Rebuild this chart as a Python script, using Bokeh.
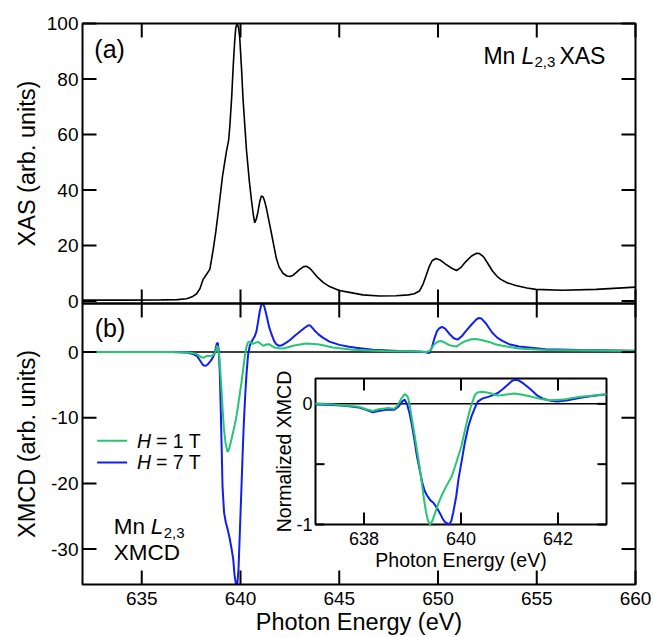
import math
from bokeh.plotting import figure
from bokeh.models import Range1d
from bokeh.core.properties import value
from bokeh.embed import file_html
from bokeh.resources import INLINE

# ---------------- data ----------------
xas_energy = [632.0, 634.0, 636.0, 636.8, 637.27, 637.55, 637.78, 637.95, 638.11, 638.3, 638.45,
              638.62, 638.75, 638.87, 639.09, 639.29, 639.4, 639.46, 639.55, 639.63, 639.7, 639.76,
              639.83, 639.9, 639.96, 640.05, 640.13, 640.3, 640.45, 640.55, 640.65, 640.72, 640.8,
              640.88, 640.98, 641.06, 641.14, 641.22, 641.31, 641.45, 641.56, 641.7, 641.81, 641.95,
              642.15, 642.35, 642.49, 642.65, 642.83, 643.0, 643.2, 643.35, 643.5, 643.59, 643.75,
              643.92, 644.2, 644.51, 645.0, 645.52, 646.19, 647.03, 647.88, 648.5, 648.8, 649.06,
              649.25, 649.39, 649.55, 649.7, 649.9, 650.1, 650.4, 650.7, 650.94, 651.15, 651.41,
              651.7, 651.95, 652.1, 652.3, 652.5, 652.76, 653.0, 653.18, 653.5, 653.94, 654.5,
              654.95, 656.3, 658.0, 660.0]
xas_intensity = [0.3, 0.3, 0.4, 0.5, 0.8, 1.5, 2.6, 4.5, 7.8, 9.8, 11.5,
                 18.6, 25.0, 31.8, 45.0, 54.0, 58.0, 63.0, 73.0, 84.6, 93.0, 98.5,
                 100.0, 98.5, 95.0, 84.0, 72.6, 54.6, 43.0, 36.6, 31.0, 28.2, 29.5,
                 32.0, 36.0, 37.8, 37.6, 36.0, 33.5, 28.5, 24.6, 19.5, 15.5, 12.3,
                 10.0, 9.0, 8.8, 9.2, 10.3, 11.4, 12.4, 12.5, 11.8, 11.2, 9.8,
                 8.4, 6.6, 5.2, 3.8, 3.1, 2.2, 1.8, 1.9, 2.2, 2.6, 3.6,
                 6.2, 9.0, 12.3, 14.5, 15.3, 14.8, 13.2, 11.8, 11.0, 12.0, 14.2,
                 16.2, 17.2, 17.1, 16.0, 13.8, 10.8, 8.8, 7.8, 6.6, 5.6, 4.7,
                 4.2, 3.9, 4.2, 5.0]

xmcd7_energy = [632.0, 636.5, 637.3, 637.6, 637.8, 638.0, 638.11, 638.25, 638.36, 638.5, 638.62,
                638.72, 638.8, 638.85, 638.9, 638.95, 638.99, 639.05, 639.09, 639.17, 639.26,
                639.35, 639.46, 639.55, 639.63, 639.7, 639.76, 639.84, 639.9, 639.96, 640.05,
                640.12, 640.17, 640.24, 640.3, 640.38, 640.47, 640.6, 640.72, 640.81, 640.9,
                640.98, 641.06, 641.14, 641.22, 641.31, 641.45, 641.56, 641.7, 641.81, 641.95,
                642.07, 642.3, 642.49, 642.75, 643.0, 643.25, 643.45, 643.55, 643.75, 643.95,
                644.17, 644.5, 645.01, 645.5, 645.86, 646.7, 648.0, 649.0, 649.3, 649.56, 649.7,
                649.81, 649.95, 650.06, 650.2, 650.35, 650.57, 650.8, 650.99, 651.2, 651.41,
                651.7, 651.92, 652.05, 652.2, 652.42, 652.6, 652.76, 653.0, 653.26, 653.6, 654.1,
                655.45, 657.14, 660.0]
xmcd7_signal = [0.0, 0.0, -0.05, -0.3, -0.6, -1.5, -2.0, -2.1, -1.8, -1.3, -0.7,
                0.2, 1.3, 1.4, 0.2, -3.0, -7.5, -15.0, -20.5, -24.5, -26.0,
                -27.0, -28.5, -30.0, -31.5, -34.0, -35.2, -35.4, -33.0, -28.0, -20.5,
                -14.5, -10.7, -6.5, -3.5, -0.5, 1.0, 1.8, 2.4, 3.2, 4.8,
                6.3, 7.3, 7.4, 6.8, 5.7, 3.8, 2.8, 1.7, 1.2, 0.95,
                1.0, 1.4, 1.8, 2.5, 3.1, 3.7, 4.1, 4.0, 3.3, 2.7,
                2.2, 1.6, 1.1, 0.8, 0.65, 0.35, 0.15, 0.1, 0.0, -0.15, 0.8,
                2.0, 3.2, 3.6, 3.85, 3.6, 2.8, 2.1, 1.9, 2.4, 3.2,
                4.2, 4.9, 5.2, 5.1, 4.4, 3.6, 2.9, 2.2, 1.7, 1.2, 0.85,
                0.45, 0.3, 0.2]

xmcd1_energy = [632.0, 636.5, 637.4, 637.78, 638.03, 638.15, 638.28, 638.54, 638.7, 638.77, 638.82,
                638.87, 638.92, 638.98, 639.04, 639.1, 639.16, 639.25, 639.34, 639.42, 639.55,
                639.68, 639.8, 639.92, 640.05, 640.15, 640.22, 640.3, 640.38, 640.48, 640.6,
                640.75, 640.89, 641.0, 641.14, 641.3, 641.44, 641.6, 641.73, 641.95, 642.15,
                642.4, 642.66, 643.0, 643.33, 643.7, 644.0, 644.68, 645.69, 647.2, 649.0, 649.4,
                649.6, 649.81, 650.0, 650.15, 650.3, 650.48, 650.7, 650.94, 651.15, 651.41, 651.7,
                651.92, 652.2, 652.59, 652.9, 653.26, 654.1, 655.45, 660.0]
xmcd1_signal = [0.0, 0.0, -0.05, -0.3, -0.8, -0.85, -0.6, -0.55, -0.3, 0.4, 1.0,
                0.6, -0.5, -3.0, -5.8, -9.0, -11.7, -14.0, -15.2, -14.8, -13.2,
                -11.5, -9.7, -7.3, -4.6, -2.3, -0.6, 0.8, 1.5, 1.6, 1.25,
                1.4, 1.55, 1.3, 0.95, 1.15, 1.2, 0.9, 0.7, 0.6, 0.56,
                0.75, 0.96, 1.15, 1.3, 1.25, 1.15, 0.7, 0.35, 0.15, 0.1, 0.02,
                0.2, 1.2, 1.6, 1.7, 1.5, 1.2, 0.95, 0.86, 1.3, 1.7, 1.95,
                2.0, 1.85, 1.55, 1.2, 0.96, 0.56, 0.3, 0.15]

inset7_energy = [637.0, 637.36, 637.6, 637.9, 638.05, 638.18, 638.3, 638.45, 638.62, 638.72, 638.79,
                 638.84, 638.89, 638.94, 638.99, 639.04, 639.09, 639.15, 639.2, 639.25, 639.3,
                 639.37, 639.43, 639.5, 639.57, 639.62, 639.67, 639.76, 639.8, 639.84, 639.9,
                 639.95, 640.02, 640.08, 640.15, 640.22, 640.3, 640.35, 640.45, 640.56, 640.66,
                 640.76, 640.87, 640.97, 641.05, 641.12, 641.18, 641.3, 641.44, 641.57, 641.71,
                 641.85, 641.99, 642.2, 642.46, 642.7, 643.0]
inset7_signal = [-0.005, -0.01, -0.015, -0.03, -0.05, -0.07, -0.06, -0.05, -0.05, -0.02, 0.02,
                 0.035, -0.006, -0.08, -0.18, -0.3, -0.43, -0.55, -0.65, -0.72, -0.76,
                 -0.8, -0.82, -0.86, -0.91, -0.95, -0.98, -1.0, -0.97, -0.9, -0.77,
                 -0.62, -0.46, -0.32, -0.19, -0.1, -0.02, 0.02, 0.045, 0.058, 0.072,
                 0.09, 0.125, 0.16, 0.19, 0.2, 0.196, 0.165, 0.118, 0.07, 0.04,
                 0.025, 0.02, 0.03, 0.05, 0.065, 0.08]

inset1_energy = [637.0, 637.4, 637.9, 638.05, 638.18, 638.3, 638.38, 638.5, 638.62, 638.68, 638.72,
                 638.78, 638.84, 638.88, 638.91, 638.95, 638.99, 639.04, 639.09, 639.15, 639.2,
                 639.24, 639.28, 639.32, 639.36, 639.41, 639.47, 639.53, 639.6, 639.7, 639.81,
                 639.9, 640.01, 640.08, 640.15, 640.22, 640.29, 640.35, 640.42, 640.5, 640.59,
                 640.68, 640.76, 640.9, 641.1, 641.27, 641.44, 641.65, 641.85, 642.1, 642.46,
                 642.75, 643.0]
inset1_signal = [0.0, -0.005, -0.025, -0.045, -0.06, -0.045, -0.04, -0.035, -0.04, -0.02, 0.008,
                 0.05, 0.08, 0.07, 0.05, -0.03, -0.13, -0.25, -0.38, -0.53, -0.68,
                 -0.8, -0.9, -0.97, -1.0, -0.97, -0.9, -0.83, -0.76, -0.68, -0.6,
                 -0.49, -0.35, -0.22, -0.1, 0.0, 0.077, 0.095, 0.1, 0.097, 0.09,
                 0.078, 0.068, 0.076, 0.085, 0.075, 0.06, 0.04, 0.03, 0.035, 0.058,
                 0.07, 0.08]

energy_ticks = [635, 640, 645, 650, 655, 660]
energy_tick_labels = ["635", "640", "645", "650", "655", "660"]
xas_ticks = [0, 20, 40, 60, 80, 100]
xas_tick_labels = ["0", "20", "40", "60", "80", "100"]
xmcd_ticks = [-30, -20, -10, 0]
xmcd_tick_labels = ["-30", "-20", "-10", "0"]
inset_x_ticks = [638, 640, 642]
inset_x_labels = ["638", "640", "642"]
inset_y_ticks = [-1, -0.5, 0]
inset_y_label_values = [0, -1]
inset_y_labels = ["0", "-1"]

energy_limits = (632.0, 660.0)
xas_limits = (-0.9, 100.0)
xmcd_limits = (-35.4, 7.4)
inset_xlim = (637.0, 643.0)
inset_ylim = (-1.0, 0.21)

series_labels = ["= 1 T", "= 7 T"]

# ---------------- layout (canvas px, y measured from the top) ----------------
FONT = "Liberation Sans"
BLUE = "#0f1ef2"
GREEN = "#25c670"
W, H = 652, 635
PL, PR = 82, 635            # panel left / right edge
PT, PM, PB = 23, 303, 584   # top of (a), (a)/(b) boundary, bottom of (b)
IB_L, IB_R, IB_T, IB_B = 315, 606, 378, 524   # inset frame
TICK = 14

ev_pp = (PR - PL) / (energy_limits[1] - energy_limits[0])
xas_pp = (PM - PT) / (xas_limits[1] - xas_limits[0])
xmcd_pp = (PB - PM) / (xmcd_limits[1] - xmcd_limits[0])
ixs = (IB_R - IB_L) / (inset_xlim[1] - inset_xlim[0])
iys = (IB_B - IB_T) / (inset_ylim[1] - inset_ylim[0])

p = figure(width=W, height=H,
           x_range=Range1d(energy_limits[0] - PL / ev_pp, energy_limits[1] + (W - PR) / ev_pp),
           y_range=Range1d(xmcd_limits[0] - (H - PB) / xmcd_pp, xmcd_limits[1] + PM / xmcd_pp),
           output_backend="svg", toolbar_location=None,
           x_axis_location=None, y_axis_location=None,
           min_border=0, min_border_left=0, min_border_right=0,
           min_border_top=0, min_border_bottom=0)
p.extra_y_ranges = {
    "xas": Range1d(xas_limits[0] - (H - PM) / xas_pp, xas_limits[1] + PT / xas_pp),
    "iy": Range1d(inset_ylim[0] - (H - IB_B) / iys, inset_ylim[1] + IB_T / iys),
}
p.extra_x_ranges = {"ix": Range1d(inset_xlim[0] - IB_L / ixs, inset_xlim[1] + (W - IB_R) / ixs)}
p.xgrid.grid_line_color = None
p.ygrid.grid_line_color = None
p.outline_line_color = None
p.background_fill_color = "white"
p.border_fill_color = "white"

XAS = dict(y_range_name="xas")
INS = dict(x_range_name="ix", y_range_name="iy")
tick_kw = dict(line_color="black", line_width=2)


def txt(x, y, text, size, align="left", style="normal", dx=0, dy=0, angle=0, **kw):
    p.text(x=x, y=y, text=text, x_offset=dx, y_offset=dy, angle=angle,
           text_font=value(FONT), text_font_size=size, text_font_style=style,
           text_color="black", text_align=align, text_baseline="middle", **kw)


# ---------------- curves ----------------
p.line(list(energy_limits), [0, 0], line_color="black", line_width=1.5)
p.line(xas_energy, xas_intensity, line_color="black", line_width=1.6, **XAS)
p.line(xmcd7_energy, xmcd7_signal, line_color=BLUE, line_width=2)
p.line(xmcd1_energy, xmcd1_signal, line_color=GREEN, line_width=2)

# ---------------- ticks (inward on every side) ----------------
ne = len(energy_ticks)
p.segment(energy_ticks, [xas_limits[1]] * ne, energy_ticks, [xas_limits[1] - TICK / xas_pp] * ne,
          **XAS, **tick_kw)
p.segment(energy_ticks, [xas_limits[0]] * ne, energy_ticks, [xas_limits[0] + TICK / xas_pp] * ne,
          **XAS, **tick_kw)
p.segment(energy_ticks, [xmcd_limits[1]] * ne, energy_ticks, [xmcd_limits[1] - TICK / xmcd_pp] * ne,
          **tick_kw)
p.segment(energy_ticks, [xmcd_limits[0]] * ne, energy_ticks, [xmcd_limits[0] + TICK / xmcd_pp] * ne,
          **tick_kw)
for ticks, extra in [(xas_ticks, XAS), (xmcd_ticks, {})]:
    n = len(ticks)
    p.segment([energy_limits[0]] * n, ticks, [energy_limits[0] + TICK / ev_pp] * n, ticks,
              **tick_kw, **extra)
    p.segment([energy_limits[1]] * n, ticks, [energy_limits[1] - TICK / ev_pp] * n, ticks,
              **tick_kw, **extra)

# ---------------- tick labels and axis titles ----------------
txt([energy_limits[0]] * len(xas_ticks), xas_ticks, xas_tick_labels, "19px",
    align="right", dx=-4, **XAS)
txt([energy_limits[0]] * len(xmcd_ticks), xmcd_ticks, xmcd_tick_labels, "19px",
    align="right", dx=-4)
txt(energy_ticks, [xmcd_limits[0]] * ne, energy_tick_labels, "19px", align="center", dy=14)
txt([energy_limits[0]], [sum(xas_limits) / 2], ["XAS (arb. units)"], "23.5px",
    align="center", dx=-56, angle=math.pi / 2, **XAS)
txt([energy_limits[0]], [sum(xmcd_limits) / 2], ["XMCD (arb. units)"], "23.5px",
    align="center", dx=-56, angle=math.pi / 2)
txt([sum(energy_limits) / 2], [xmcd_limits[0]], ["Photon Energy (eV)"], "23.5px",
    align="center", dy=37)

# ---------------- panel annotations ----------------
txt([632.6], [90.8], ["(a)"], "25px", **XAS)
for t, st, sz, dx, dy in [("Mn", "normal", "23px", 0, 0), ("L", "italic", "23px", 38, 0),
                          ("2,3", "normal", "15px", 51, 6), ("XAS", "normal", "23px", 76, 0)]:
    txt([652.3], [88.3], [t], sz, style=st, dx=dx, dy=dy, **XAS)

for yy, col, lab in [(-13.5, GREEN, series_labels[0]), (-16.8, BLUE, series_labels[1])]:
    p.scatter([633.5], [yy], marker="dash", size=30, line_color=col, line_width=2)
    txt([634.76], [yy], ["H"], "19.5px", style="italic")
    txt([634.76], [yy], [lab], "19.5px", dx=19)

txt([632.62], [3.65], ["(b)"], "25px")
for t, st, sz, dx, dy in [("Mn", "normal", "22.5px", 0, 0), ("L", "italic", "22.5px", 37, 0),
                          ("2,3", "normal", "15px", 50, 6)]:
    txt([633.58], [-26.6], [t], sz, style=st, dx=dx, dy=dy)
txt([633.58], [-30.6], ["XMCD"], "22.5px")

# ---------------- inset ----------------
p.quad(left=[inset_xlim[0]], right=[inset_xlim[1]], bottom=[inset_ylim[0]], top=[inset_ylim[1]],
       fill_color="white", line_color="black", line_width=2, **INS)
p.line(list(inset_xlim), [0, 0], line_color="black", line_width=1.5, **INS)
nx, ny = len(inset_x_ticks), len(inset_y_ticks)
p.segment(inset_x_ticks, [inset_ylim[0]] * nx, inset_x_ticks, [inset_ylim[0] + 12 / iys] * nx,
          **tick_kw, **INS)
p.segment(inset_x_ticks, [inset_ylim[1]] * nx, inset_x_ticks, [inset_ylim[1] - 12 / iys] * nx,
          **tick_kw, **INS)
p.segment([inset_xlim[0]] * ny, inset_y_ticks, [inset_xlim[0] + 9 / ixs] * ny, inset_y_ticks,
          **tick_kw, **INS)
p.segment([inset_xlim[1]] * ny, inset_y_ticks, [inset_xlim[1] - 9 / ixs] * ny, inset_y_ticks,
          **tick_kw, **INS)
p.line(inset7_energy, inset7_signal, line_color=BLUE, line_width=2, **INS)
p.line(inset1_energy, inset1_signal, line_color=GREEN, line_width=2, **INS)

txt(inset_x_ticks, [inset_ylim[0]] * nx, inset_x_labels, "18px", align="center", dy=14, **INS)
txt([inset_xlim[0]] * 2, inset_y_label_values, inset_y_labels, "18px", align="right",
    dx=-3, **INS)
txt([sum(inset_xlim) / 2], [inset_ylim[0]], ["Photon Energy (eV)"], "19.5px", align="center",
    dy=35, **INS)
txt([inset_xlim[0]], [sum(inset_ylim) / 2], ["Normalized XMCD"], "19.5px", align="center",
    dx=-32, angle=math.pi / 2, **INS)

# ---------------- panel frames ----------------
p.quad(left=[energy_limits[0]], right=[energy_limits[1]], bottom=[xas_limits[0]],
       top=[xas_limits[1]], fill_color=None, line_color="black", line_width=2, **XAS)
p.quad(left=[energy_limits[0]], right=[energy_limits[1]], bottom=[xmcd_limits[0]],
       top=[xmcd_limits[1]], fill_color=None, line_color="black", line_width=2)

open("out.html", "w").write(file_html(p, INLINE))
